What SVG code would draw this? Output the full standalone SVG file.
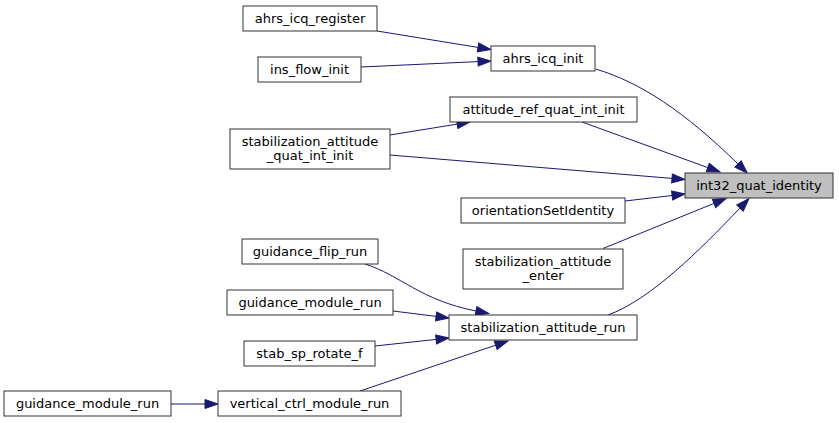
<svg xmlns="http://www.w3.org/2000/svg" width="839" height="423" viewBox="0 0 839 423">
<defs>
<style>
.node rect{fill:#ffffff;stroke:#333333;stroke-width:1}
.node.hl rect{fill:#bfbfbf}
.node text{font-family:"DejaVu Sans",sans-serif;font-size:13px;fill:#000000;text-anchor:middle}
.edge{fill:none;stroke:#191970;stroke-width:1;marker-end:url(#arr)}
</style>
<marker id="arr" markerUnits="userSpaceOnUse" markerWidth="14" markerHeight="10" refX="0" refY="4.5" orient="auto" overflow="visible">
<path d="M0,0 L13,4.5 L0,9 Z" fill="#191970" stroke="#191970" stroke-width="1"/>
</marker>
</defs>
<rect width="839" height="423" fill="#ffffff"/>
<g id="edges">
<path class="edge" d="M377,31 L478,47.4"/>
<path class="edge" d="M361,67 L478,61.6"/>
<path class="edge" d="M595.5,69 C640,82 685,112 738,164"/>
<path class="edge" d="M582,122 L707.8,167.6"/>
<path class="edge" d="M390,135 L457.2,124.1"/>
<path class="edge" d="M390,155 L672,178.4"/>
<path class="edge" d="M625,201 L672.1,195.5"/>
<path class="edge" d="M603,248.5 L714,203.4"/>
<path class="edge" d="M608,315 C650,300 700,250 740,208"/>
<path class="edge" d="M365,264 C400,275 420,300 476,311"/>
<path class="edge" d="M393,311 L436.1,316.4"/>
<path class="edge" d="M375,346 L436.1,339.4"/>
<path class="edge" d="M360,391 L495.7,345.2"/>
<path class="edge" d="M171,404 L205,404"/>
</g>
<g id="n_ahrs_icq_register" class="node"><rect x="243" y="6" width="134" height="25"/><text x="310" y="22.5">ahrs_icq_register</text></g>
<g id="n_ins_flow_init" class="node"><rect x="258" y="57" width="103" height="25"/><text x="309.5" y="73.5">ins_flow_init</text></g>
<g id="n_stabilization_attitude_quat_int_init" class="node"><rect x="230" y="129" width="160" height="40"/><text x="310" y="145.5">stabilization_attitude</text><text x="310" y="160">_quat_int_init</text></g>
<g id="n_ahrs_icq_init" class="node"><rect x="491" y="46" width="104" height="25"/><text x="543" y="62.5">ahrs_icq_init</text></g>
<g id="n_attitude_ref_quat_int_init" class="node"><rect x="450" y="97" width="187" height="25"/><text x="543.5" y="113.5">attitude_ref_quat_int_init</text></g>
<g id="n_int32_quat_identity" class="node hl"><rect x="685" y="173" width="148" height="25"/><text x="759" y="189.5">int32_quat_identity</text></g>
<g id="n_orientationSetIdentity" class="node"><rect x="461" y="198" width="164" height="25"/><text x="543" y="214.5">orientationSetIdentity</text></g>
<g id="n_stabilization_attitude_enter" class="node"><rect x="463" y="249" width="160" height="40"/><text x="543" y="265.5">stabilization_attitude</text><text x="543" y="280">_enter</text></g>
<g id="n_stabilization_attitude_run" class="node"><rect x="449" y="315" width="188" height="25"/><text x="543" y="331.5">stabilization_attitude_run</text></g>
<g id="n_guidance_flip_run" class="node"><rect x="242" y="239" width="136" height="25"/><text x="310" y="255.5">guidance_flip_run</text></g>
<g id="n_guidance_module_run_1" class="node"><rect x="227" y="290" width="166" height="25"/><text x="310" y="306.5">guidance_module_run</text></g>
<g id="n_stab_sp_rotate_f" class="node"><rect x="244" y="341" width="131" height="25"/><text x="309.5" y="357.5">stab_sp_rotate_f</text></g>
<g id="n_guidance_module_run_2" class="node"><rect x="4" y="391" width="167" height="25"/><text x="87.5" y="408">guidance_module_run</text></g>
<g id="n_vertical_ctrl_module_run" class="node"><rect x="218" y="391" width="183" height="25"/><text x="309.5" y="408">vertical_ctrl_module_run</text></g>
</svg>
